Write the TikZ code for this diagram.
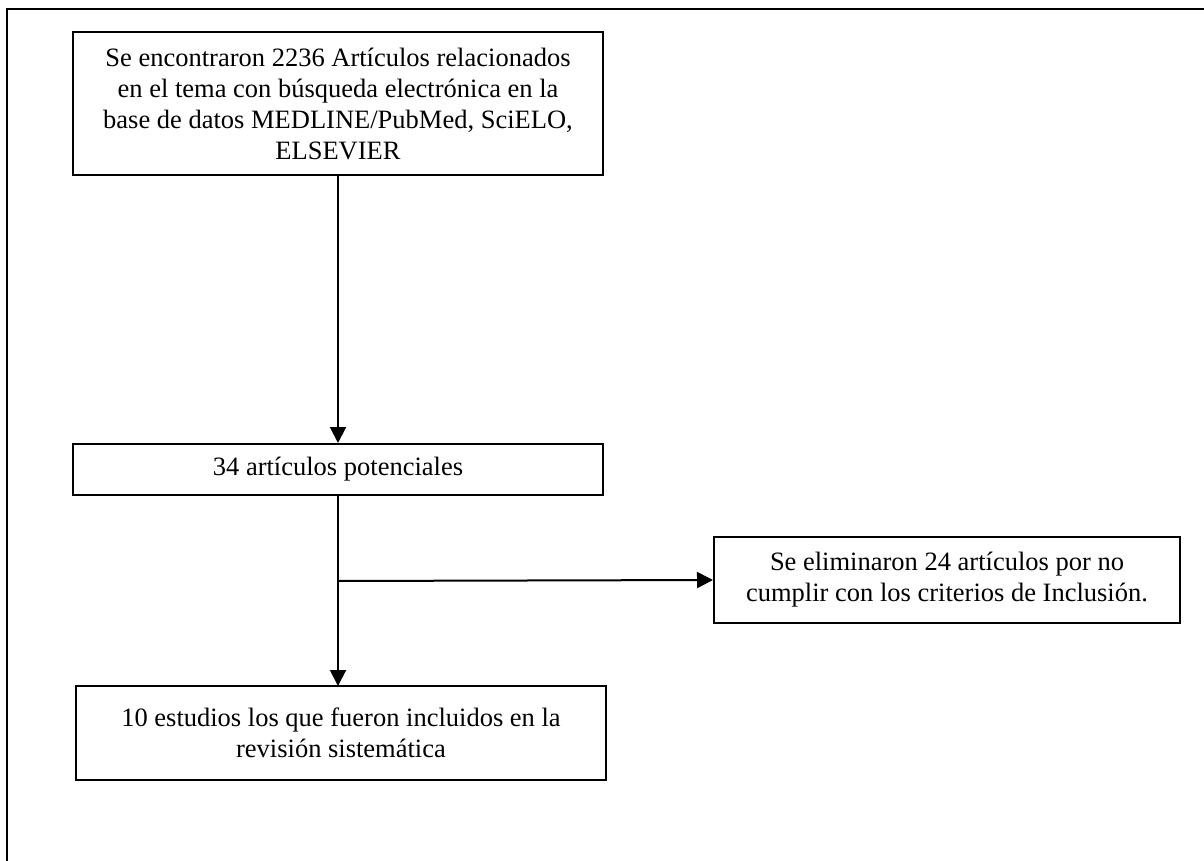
\documentclass[tikz,border=0pt]{standalone}
\usepackage{fontspec}
\setmainfont{Liberation Serif}
\usetikzlibrary{arrows.meta}
\begin{document}
\begin{tikzpicture}[x=1pt,y=-1pt,
  box/.style={draw, line width=2pt, rectangle, inner sep=0pt, align=center,
    font=\fontsize{26.5}{31}\selectfont},
  conn/.style={line width=2pt},
  arr/.style={line width=2pt, -{Triangle[length=16pt,width=16pt]}}]
\useasboundingbox (0,0) rectangle (1204,861);
\draw[line width=2pt] (7,861) -- (7,9) -- (1204,9);
\node[box, minimum width=530pt, minimum height=143pt] (b1) at (338,103.5)
  {Se encontraron 2236 Artículos relacionados\\en el tema con búsqueda electrónica en la\\base de datos MEDLINE/PubMed, SciELO,\\ELSEVIER};
\node[box, minimum width=530pt, minimum height=51pt] (b2) at (338,469.5)
  {34 artículos potenciales};
\node[box, minimum width=466pt, minimum height=86pt] (b3) at (947,580)
  {Se eliminaron 24 artículos por no\\cumplir con los criterios de Inclusión.};
\node[box, minimum width=530pt, minimum height=94pt] (b4) at (341,733)
  {10 estudios los que fueron incluidos en la\\revisión sistemática};
\coordinate (j) at (338,581);
\coordinate (e) at (338,686);
\draw[arr] (b1.south) -- (b2.north);
\draw[conn] (b2.south) -- (j);
\draw[arr] (j) -- (e);
\draw[arr] (j) -- (b3.west);
\end{tikzpicture}
\end{document}
